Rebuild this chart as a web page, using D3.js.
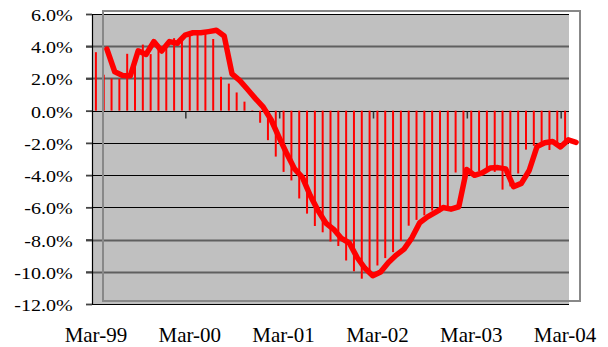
<!DOCTYPE html>
<html><head><meta charset="utf-8">
<script src="https://cdn.jsdelivr.net/npm/d3@7"></script>
<style>body{margin:0;background:#fff}svg{display:block}</style>
</head><body>
<script>
const categories = [
 "Mar-99","Apr-99","May-99","Jun-99","Jul-99","Aug-99","Sep-99","Oct-99","Nov-99","Dec-99","Jan-00","Feb-00",
 "Mar-00","Apr-00","May-00","Jun-00","Jul-00","Aug-00","Sep-00","Oct-00","Nov-00","Dec-00","Jan-01","Feb-01",
 "Mar-01","Apr-01","May-01","Jun-01","Jul-01","Aug-01","Sep-01","Oct-01","Nov-01","Dec-01","Jan-02","Feb-02",
 "Mar-02","Apr-02","May-02","Jun-02","Jul-02","Aug-02","Sep-02","Oct-02","Nov-02","Dec-02","Jan-03","Feb-03",
 "Mar-03","Apr-03","May-03","Jun-03","Jul-03","Aug-03","Sep-03","Oct-03","Nov-03","Dec-03","Jan-04","Feb-04",
 "Mar-04"];
const values = [3.63,2.23,2.0,1.98,3.53,3.3,4.1,3.51,4.1,4.0,
 4.5,4.65,4.65,4.72,4.8,4.45,2.1,1.68,1.13,0.56,
 0.03,-0.75,-1.83,-2.85,-3.8,-4.33,-5.45,-6.39,-7.16,-7.55,
 -8.12,-8.4,-9.3,-9.97,-10.43,-10.2,-9.61,-9.15,-8.78,-8.08,
 -7.14,-6.78,-6.5,-6.2,-6.3,-6.15,-3.84,-4.2,-4.05,-3.75,
 -3.72,-3.8,-4.9,-4.7,-3.9,-2.42,-2.18,-2.1,-2.44,-2.0,-2.15];
const xTickLabels = ["Mar-99","Mar-00","Mar-01","Mar-02","Mar-03","Mar-04"];
const yTicks = [-12,-10,-8,-6,-4,-2,0,2,4,6];
const grayGrid = [4,2,-8,-10];

const W=608,H=347;
const svg=d3.select("body").append("svg").attr("width",W).attr("height",H);
const x=d3.scaleBand().domain(categories).range([92,569]);
const y=d3.scaleLinear().domain([-12,6]).range([304,14]);
const xL=d3.scaleBand().domain(categories).range([103,580]);
const yL=d3.scaleLinear().domain([-12,6]).range([301,11]);
const bw=x.bandwidth();

svg.append("rect").attr("x",92).attr("y",14).attr("width",477).attr("height",290).attr("fill","#c0c0c0");

// gridlines
svg.append("g").selectAll("line").data(yTicks).join("line")
 .attr("x1",86).attr("x2",569).attr("y1",d=>Math.round(y(d))+0.5).attr("y2",d=>Math.round(y(d))+0.5)
 .attr("stroke",d=>grayGrid.includes(d)?"#5f5f5f":"#000")
 .attr("stroke-width",d=>grayGrid.includes(d)?1.8:1);

// bars
svg.append("g").selectAll("line").data(values).join("line")
 .attr("x1",(d,i)=>x(categories[i])+bw/2).attr("x2",(d,i)=>x(categories[i])+bw/2)
 .attr("y1",y(0)).attr("y2",d=>y(d))
 .attr("stroke","#ff0000").attr("stroke-width",2);

// x-axis ticks on zero line
const xAxis=d3.axisBottom(x).tickValues(xTickLabels.slice(1)).tickSize(7).tickFormat("");
const gx=svg.append("g").attr("transform",`translate(${-bw/2},${Math.round(y(0))+0.5})`).call(xAxis);
gx.select(".domain").remove();
gx.selectAll(".tick line").attr("stroke","#333").attr("stroke-width",1.5);

// line
svg.append("path").datum(values)
 .attr("d",d3.line().x((d,i)=>xL(categories[i])+xL.bandwidth()/2).y(d=>yL(d)))
 .attr("fill","none").attr("stroke","#ff0000").attr("stroke-width",5.5)
 .attr("stroke-linejoin","round").attr("stroke-linecap","round");

// overlay plot border
svg.append("rect").attr("x",103).attr("y",11).attr("width",477).attr("height",290)
 .attr("fill","none").attr("stroke","#888").attr("stroke-width",2);

// y axis
const yAxis=d3.axisLeft(y).tickValues(yTicks).tickSize(6).tickFormat(d=>d.toFixed(1)+"%");
const gy=svg.append("g").attr("transform","translate(92,0)").call(yAxis);
gy.select(".domain").attr("d","M0.5,14V304").attr("stroke","#000").attr("stroke-width",1.2);
gy.selectAll(".tick line").attr("stroke","#444").attr("stroke-width",1.8);
gy.selectAll(".tick text").attr("x",-19.3/1.18).attr("dy",null).attr("y",6.5)
 .attr("transform","scale(1.18,1)")
 .attr("font-family","'Liberation Serif','Times New Roman',serif").attr("font-size",17).attr("fill","#000");

// x labels
svg.append("g").selectAll("text").data(xTickLabels).join("text")
 .attr("x",d=>x(d)+bw/2).attr("y",342).attr("text-anchor","middle")
 .attr("font-family","'Liberation Serif','Times New Roman',serif").attr("font-size",21).attr("fill","#000")
 .text(d=>d);
</script>
</body></html>
